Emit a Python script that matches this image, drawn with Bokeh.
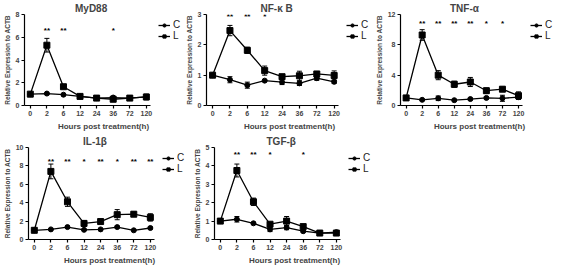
from bokeh.plotting import figure
from bokeh.models import Range1d, FixedTicker, Whisker, ColumnDataSource, Legend, LegendItem, TeeHead
from bokeh.layouts import column, row
from bokeh.embed import file_html
from bokeh.resources import INLINE
from bokeh.core.properties import value

hours = ["0", "2", "6", "12", "24", "36", "72", "120"]

myd88_c = [1.0, 1.05, 0.95, 0.8, 0.65, 0.7, 0.65, 0.75]
myd88_c_err = [0, 0.05, 0.05, 0.05, 0.05, 0.05, 0.05, 0.1]
myd88_l = [1.0, 5.3, 1.65, 0.8, 0.65, 0.55, 0.65, 0.75]
myd88_l_err = [0, 0.6, 0.15, 0.05, 0.05, 0.1, 0.05, 0.25]
myd88_stars = ["", "**", "**", "", "", "*", "", ""]

nfkb_c = [1.0, 0.85, 0.67, 0.82, 0.77, 0.73, 0.9, 0.78]
nfkb_c_err = [0, 0.1, 0.1, 0.03, 0.08, 0.07, 0.07, 0.05]
nfkb_l = [1.0, 2.47, 1.82, 1.15, 0.95, 0.98, 1.04, 0.99]
nfkb_l_err = [0, 0.17, 0.1, 0.15, 0.07, 0.15, 0.07, 0.15]
nfkb_stars = ["", "**", "**", "*", "", "", "", ""]

tnf_c = [1.0, 0.75, 0.95, 0.7, 0.85, 1.0, 0.95, 1.1]
tnf_c_err = [0, 0.1, 0.3, 0.1, 0.1, 0.15, 0.4, 0.3]
tnf_l = [1.0, 9.3, 4.0, 2.8, 3.1, 1.95, 2.15, 1.3]
tnf_l_err = [0, 0.7, 0.6, 0.4, 0.6, 0.35, 0.3, 0.5]
tnf_stars = ["", "**", "**", "**", "**", "*", "*", ""]

il1b_c = [1.0, 1.1, 1.35, 1.05, 1.1, 1.35, 1.0, 1.25]
il1b_c_err = [0, 0.05, 0.1, 0.05, 0.05, 0.1, 0.05, 0.1]
il1b_l = [1.0, 7.4, 4.1, 1.75, 1.95, 2.7, 2.75, 2.4]
il1b_l_err = [0, 0.8, 0.5, 0.3, 0.2, 0.55, 0.25, 0.4]
il1b_stars = ["", "**", "**", "*", "**", "*", "**", "**"]

tgfb_c = [1.0, 1.1, 0.88, 0.55, 0.65, 0.45, 0.35, 0.4]
tgfb_c_err = [0, 0.15, 0.05, 0.12, 0.12, 0.05, 0.03, 0.05]
tgfb_l = [1.0, 3.75, 2.05, 0.83, 1.0, 0.7, 0.35, 0.35]
tgfb_l_err = [0, 0.35, 0.2, 0.1, 0.25, 0.05, 0.05, 0.05]
tgfb_stars = ["", "**", "**", "*", "", "*", "", ""]

FONT = "Liberation Sans"


def make_panel(title, title_w, c, c_err, l, l_err, stars, ymax, ystep, fw, fh, star_frac, extra):
    idx = list(range(len(hours)))
    x0, x1 = -0.35, len(hours) - 0.75
    x_end = x0 + (x1 - x0) * (fw + extra) / fw
    p = figure(frame_width=fw + extra, frame_height=fh, output_backend="svg", toolbar_location=None,
               x_range=Range1d(x0, x_end), y_range=Range1d(0, ymax),
               min_border_left=0, min_border_right=0, min_border_top=0, min_border_bottom=0)
    p.title.text = title
    p.title.align = "left"
    p.title.offset = max(0, fw / 2 - title_w / 2 + 4)
    p.title.text_font = FONT
    p.title.text_font_size = "10px"
    p.title.text_font_style = "bold"
    p.title.standoff = 1
    p.outline_line_color = None
    p.xgrid.grid_line_color = None
    p.ygrid.grid_line_color = None

    for ax in (p.xaxis[0], p.yaxis[0]):
        ax.major_tick_out = 3
        ax.major_tick_in = 0
        ax.minor_tick_line_color = None
        ax.axis_line_width = 1.2
        ax.major_tick_line_width = 1.2
        ax.major_label_text_font = FONT
        ax.major_label_text_font_size = "7px"
        ax.major_label_text_font_style = "bold"
        ax.major_label_standoff = 2
        ax.axis_label_text_font = FONT
        ax.axis_label_text_font_style = "bold"
        ax.axis_label_standoff = 3

    p.xaxis.bounds = (x0, x1)
    p.xaxis.ticker = FixedTicker(ticks=idx)
    p.xaxis.major_label_overrides = {i: h for i, h in enumerate(hours)}
    p.xaxis.axis_label = "Hours post treatment(h)"
    p.xaxis.axis_label_text_font_size = "8px"
    p.xaxis.axis_label_text_align = "left"
    p.yaxis.ticker = FixedTicker(ticks=[v * ystep for v in range(int(round(ymax / ystep)) + 1)])
    p.yaxis.axis_label = "Relative Expression to ACTB"
    p.yaxis.axis_label_text_font_size = "6.5px"
    p.yaxis.axis_label_standoff = 2

    for vals, errs in ((c, c_err), (l, l_err)):
        src = ColumnDataSource(dict(x=idx, upper=[v + e for v, e in zip(vals, errs)],
                                    lower=[v - e for v, e in zip(vals, errs)]))
        w = Whisker(base="x", upper="upper", lower="lower", source=src,
                    line_color="black", line_width=1,
                    upper_head=TeeHead(size=5, line_color="black", line_width=1),
                    lower_head=TeeHead(size=5, line_color="black", line_width=1))
        p.add_layout(w)

    lc = p.line(idx, c, line_color="black", line_width=1.3)
    sc = p.scatter(idx, c, marker="circle", size=5, color="black")
    ll = p.line(idx, l, line_color="black", line_width=1.3)
    sl = p.scatter(idx, l, marker="square", size=6, color="black")

    p.text(x=idx, y=[ymax * star_frac] * len(idx), text=stars, text_align="center",
           text_baseline="middle", text_font=value(FONT), text_font_size="8px",
           text_font_style="bold", text_color="black")

    legend = Legend(items=[LegendItem(label="C", renderers=[lc, sc]),
                           LegendItem(label="L", renderers=[ll, sl])],
                    location=(fw + 8, fh - 27), border_line_color=None, background_fill_alpha=0,
                    label_text_font=FONT, label_text_font_size="10px", label_text_color="#222222",
                    glyph_width=12, glyph_height=8, label_standoff=3, label_height=8,
                    padding=1, margin=0, spacing=0)
    p.add_layout(legend, "center")
    return p


p1 = make_panel("MyD88", 33, myd88_c, myd88_c_err, myd88_l, myd88_l_err, myd88_stars, 8, 2, 126, 91, 0.82, 32)
p2 = make_panel("NF-κ B", 32, nfkb_c, nfkb_c_err, nfkb_l, nfkb_l_err, nfkb_stars, 3, 1, 132, 91, 0.98, 34)
p3 = make_panel("TNF-α", 31, tnf_c, tnf_c_err, tnf_l, tnf_l_err, tnf_stars, 12, 4, 122, 91, 0.9, 36)
p4 = make_panel("IL-1β", 25, il1b_c, il1b_c_err, il1b_l, il1b_l_err, il1b_stars, 10, 2, 126, 92, 0.85, 36)
p5 = make_panel("TGF-β", 30, tgfb_c, tgfb_c_err, tgfb_l, tgfb_l_err, tgfb_stars, 5, 1, 126, 92, 0.92, 34)

layout = column(row(p1, p2, p3), row(p4, p5))
open("out.html", "w").write(file_html(layout, INLINE))
